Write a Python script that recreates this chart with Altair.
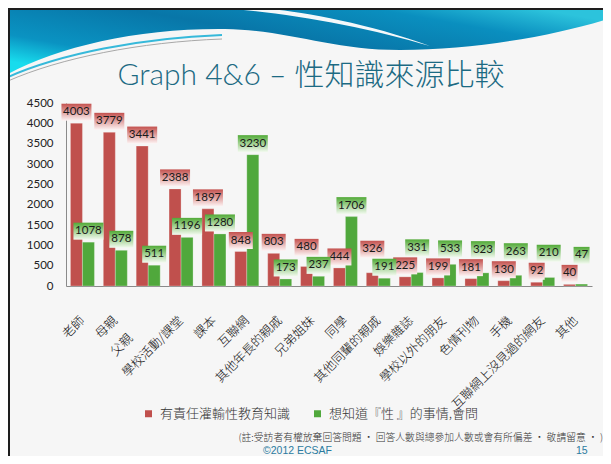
import altair as alt
import pandas as pd

# ---------------- data ----------------
CATEGORIES = ["老師", "母親", "父親", "學校活動/課堂", "課本", "互聯網", "其他年長的親戚",
              "兄弟姐妹", "同學", "其他同輩的親戚", "娛樂雜誌", "學校以外的朋友",
              "色情刊物", "手機", "互聯網上沒見過的網友", "其他"]
SERIES = ["有責任灌輸性教育知識", "想知道『性 』的事情,會問"]
RESPONSIBLE = [4003, 3779, 3441, 2388, 1897, 848, 803, 480, 444, 326, 225, 199, 181, 130, 92, 40]
ASK = [1078, 878, 511, 1196, 1280, 3230, 173, 237, 1706, 191, 331, 533, 323, 263, 210, 47]
Y_TICKS = [0, 500, 1000, 1500, 2000, 2500, 3000, 3500, 4000, 4500]
TITLE = "Graph 4&6 – 性知識來源比較"
NOTE = "(註:受訪者有權放棄回答問題 · 回答人數與總參加人數或會有所偏差 · 敬請留意 · )"
COPYRIGHT = "©2012 ECSAF"
PAGE_NO = "15"

# ---------------- style ----------------
RED = "#C0504D"
GREEN = "#50A83C"
CJK = "Noto Sans CJK TC"
LATIN = "Lato"
W, H = 526, 183
YMAX = 4500
UPX = YMAX / H  # data units per pixel

# label anchor: lift the taller label when the two boxes would collide
rows = []
for i, cat in enumerate(CATEGORIES):
    pair = (RESPONSIBLE[i], ASK[i])
    for k, s in enumerate(SERIES):
        v, other = pair[k], pair[1 - k]
        lab = v
        if abs(v - other) < 17 * UPX and v > other:
            lab = max(v, other + 18 * UPX)
        rows.append({"cat": cat, "series": s, "value": v, "lab": lab, "nd": str(len(str(v)))})
df = pd.DataFrame(rows)

BOX = {"2": "M-8,-8.5H8V8.5H-8Z", "3": "M-12,-8.5H12V8.5H-12Z", "4": "M-15,-8.5H15V8.5H-15Z"}

# the third category label sits lower in the original (trailing ideographic spaces)
X_AXIS = alt.Axis(title=None, labelAngle=-45, labelAlign="right", labelBaseline="middle",
                  labelPadding=32,
                  labelExpr="datum.value == '父親' ? '父親\u3000\u3000\u2060' : datum.label",
                  ticks=False, domainColor="#8a8a8a", domainWidth=1,
                  labelFont=CJK, labelFontSize=12.5, labelFontWeight=300,
                  labelColor="#111", labelLimit=400)
Y_AXIS = alt.Axis(title=None, values=Y_TICKS, format="d", ticks=False, grid=False,
                  domainColor="#8a8a8a", domainWidth=1, labelFont=LATIN,
                  labelFontSize=11.5, labelColor="#222", labelPadding=13)
X_SCALE = alt.Scale(domain=CATEGORIES, paddingInner=0.27, paddingOuter=0.135)
Y_SCALE = alt.Scale(domain=[0, YMAX], nice=False)
XO = alt.XOffset("series:N", scale=alt.Scale(domain=SERIES))


def grad(c0, c1, x1=0, y1=0, x2=0, y2=1):
    return alt.LinearGradient(gradient="linear",
                              stops=[alt.GradientStop(color=c0, offset=0),
                                     alt.GradientStop(color=c1, offset=1)],
                              x1=x1, y1=y1, x2=x2, y2=y2)


base = alt.Chart(df)

bars = base.mark_bar(stroke="#ffffff", strokeWidth=0.5, strokeOpacity=0.5).encode(
    x=alt.X("cat:N", scale=X_SCALE, axis=X_AXIS),
    xOffset=XO,
    y=alt.Y("value:Q", scale=Y_SCALE, axis=Y_AXIS),
    color=alt.Color("series:N", scale=alt.Scale(domain=SERIES, range=[RED, GREEN]),
                    legend=alt.Legend(orient="none", legendX=76, legendY=304,
                                      direction="horizontal", columns=2, title=None,
                                      symbolType="square", symbolSize=49,
                                      symbolStrokeWidth=0, labelFont=CJK,
                                      labelFontSize=13, labelFontWeight=300,
                                      labelColor="#333",
                                      columnPadding=20, labelOffset=5, padding=0,
                                      labelLimit=300)),
)


def label_layers(series, c0, c1):
    sub = base.transform_filter(alt.datum.series == series)
    enc = dict(x=alt.X("cat:N", scale=X_SCALE, axis=X_AXIS), xOffset=XO,
               y=alt.Y("lab:Q", scale=Y_SCALE, axis=Y_AXIS))
    box = sub.mark_point(size=4, filled=True, fill=grad(c0, c1), strokeWidth=0,
                         opacity=1, yOffset=-11).encode(
        shape=alt.Shape("nd:N", scale=alt.Scale(domain=list(BOX), range=list(BOX.values())),
                        legend=None),
        **enc)
    txt = sub.mark_text(dy=-11, font=LATIN, fontSize=11.5, color="#1a1a1a",
                        baseline="middle").encode(text=alt.Text("value:Q", format="d"), **enc)
    return [box, txt]


one = pd.DataFrame({"t": [""]})

HEADER = ("M0,1H603V10C552,26 472,42 392,42C322,42 282,22 217,21"
          "C132,20 52,38 0,66Z")
SWOOSH = "M224,1C282,5 362,20 422,38C362,16 297,4 262,1Z"
LINE_C = "M0,69C52,46 132,30 214,27"
LINE_G = "M0,73C52,50 132,34 214,31"
FRAME = "M603,1H1V455"

header = alt.Chart(one).mark_point(
    shape=HEADER, size=4, filled=True, strokeWidth=0, opacity=1,
    fill=alt.LinearGradient(gradient="linear", x1=0, y1=0.8, x2=1, y2=0.2,
                            stops=[alt.GradientStop(color="#18dced", offset=0),
                                   alt.GradientStop(color="#0a93c2", offset=0.18),
                                   alt.GradientStop(color="#0876a8", offset=0.5),
                                   alt.GradientStop(color="#0a8fbf", offset=0.8),
                                   alt.GradientStop(color="#2cc3dc", offset=1)]),
).encode(x=alt.value(-58), y=alt.value(-95))
swoosh = alt.Chart(one).mark_point(shape=SWOOSH, size=4, filled=True, strokeWidth=0,
                                   opacity=1, fill="#f4f8fa").encode(
    x=alt.value(-58), y=alt.value(-95))
line_c = alt.Chart(one).mark_point(shape=LINE_C, size=4, filled=False, strokeWidth=2,
                                   opacity=1, stroke="#36b9da").encode(
    x=alt.value(-58), y=alt.value(-95))
line_g = alt.Chart(one).mark_point(shape=LINE_G, size=4, filled=False, strokeWidth=1,
                                   opacity=1, stroke="#a8a8a8").encode(
    x=alt.value(-58), y=alt.value(-95))
frame = alt.Chart(one).mark_point(shape=FRAME, size=4, filled=False, strokeWidth=2,
                                  opacity=1, stroke="#1e1e1e").encode(
    x=alt.value(-58), y=alt.value(-95))


def text_layer(s, x, y, **kw):
    return alt.Chart(pd.DataFrame({"t": [s]})).mark_text(**kw).encode(
        x=alt.value(x), y=alt.value(y), text=alt.Text("t:N"))


title = text_layer(TITLE, 245, -18, font=f"{LATIN}, {CJK}", fontSize=30, color="#1c6a83",
                   fontWeight=300, align="center", baseline="alphabetic")
note = text_layer(NOTE, 537, 335, font=CJK, fontSize=9.8, fontWeight=300, color="#333333",
                  align="right", baseline="middle")
copy_ = text_layer(COPYRIGHT, 197, 348, font="Liberation Sans", fontSize=10.5,
                   color="#2b7ba0", align="left", baseline="middle")
page = text_layer(PAGE_NO, 510, 348, font="Liberation Sans", fontSize=10.5,
                  color="#2b7ba0", align="left", baseline="middle")

layers = [header, swoosh, line_c, line_g, frame, bars]
layers += label_layers(SERIES[0], "#c4524f", "#fdf3f3")
layers += label_layers(SERIES[1], "#52aa38", "#f3faf0")
layers += [title, note, copy_, page]

chart = alt.layer(*layers).properties(
    width=W, height=H,
    autosize=alt.AutoSizeParams(type="none"),
    padding={"left": 58, "top": 95, "right": 11, "bottom": 170},
    background="#f6f6f6",
).configure_view(stroke=None)

chart.save("out.html", embed_options={"renderer": "svg", "actions": False})
